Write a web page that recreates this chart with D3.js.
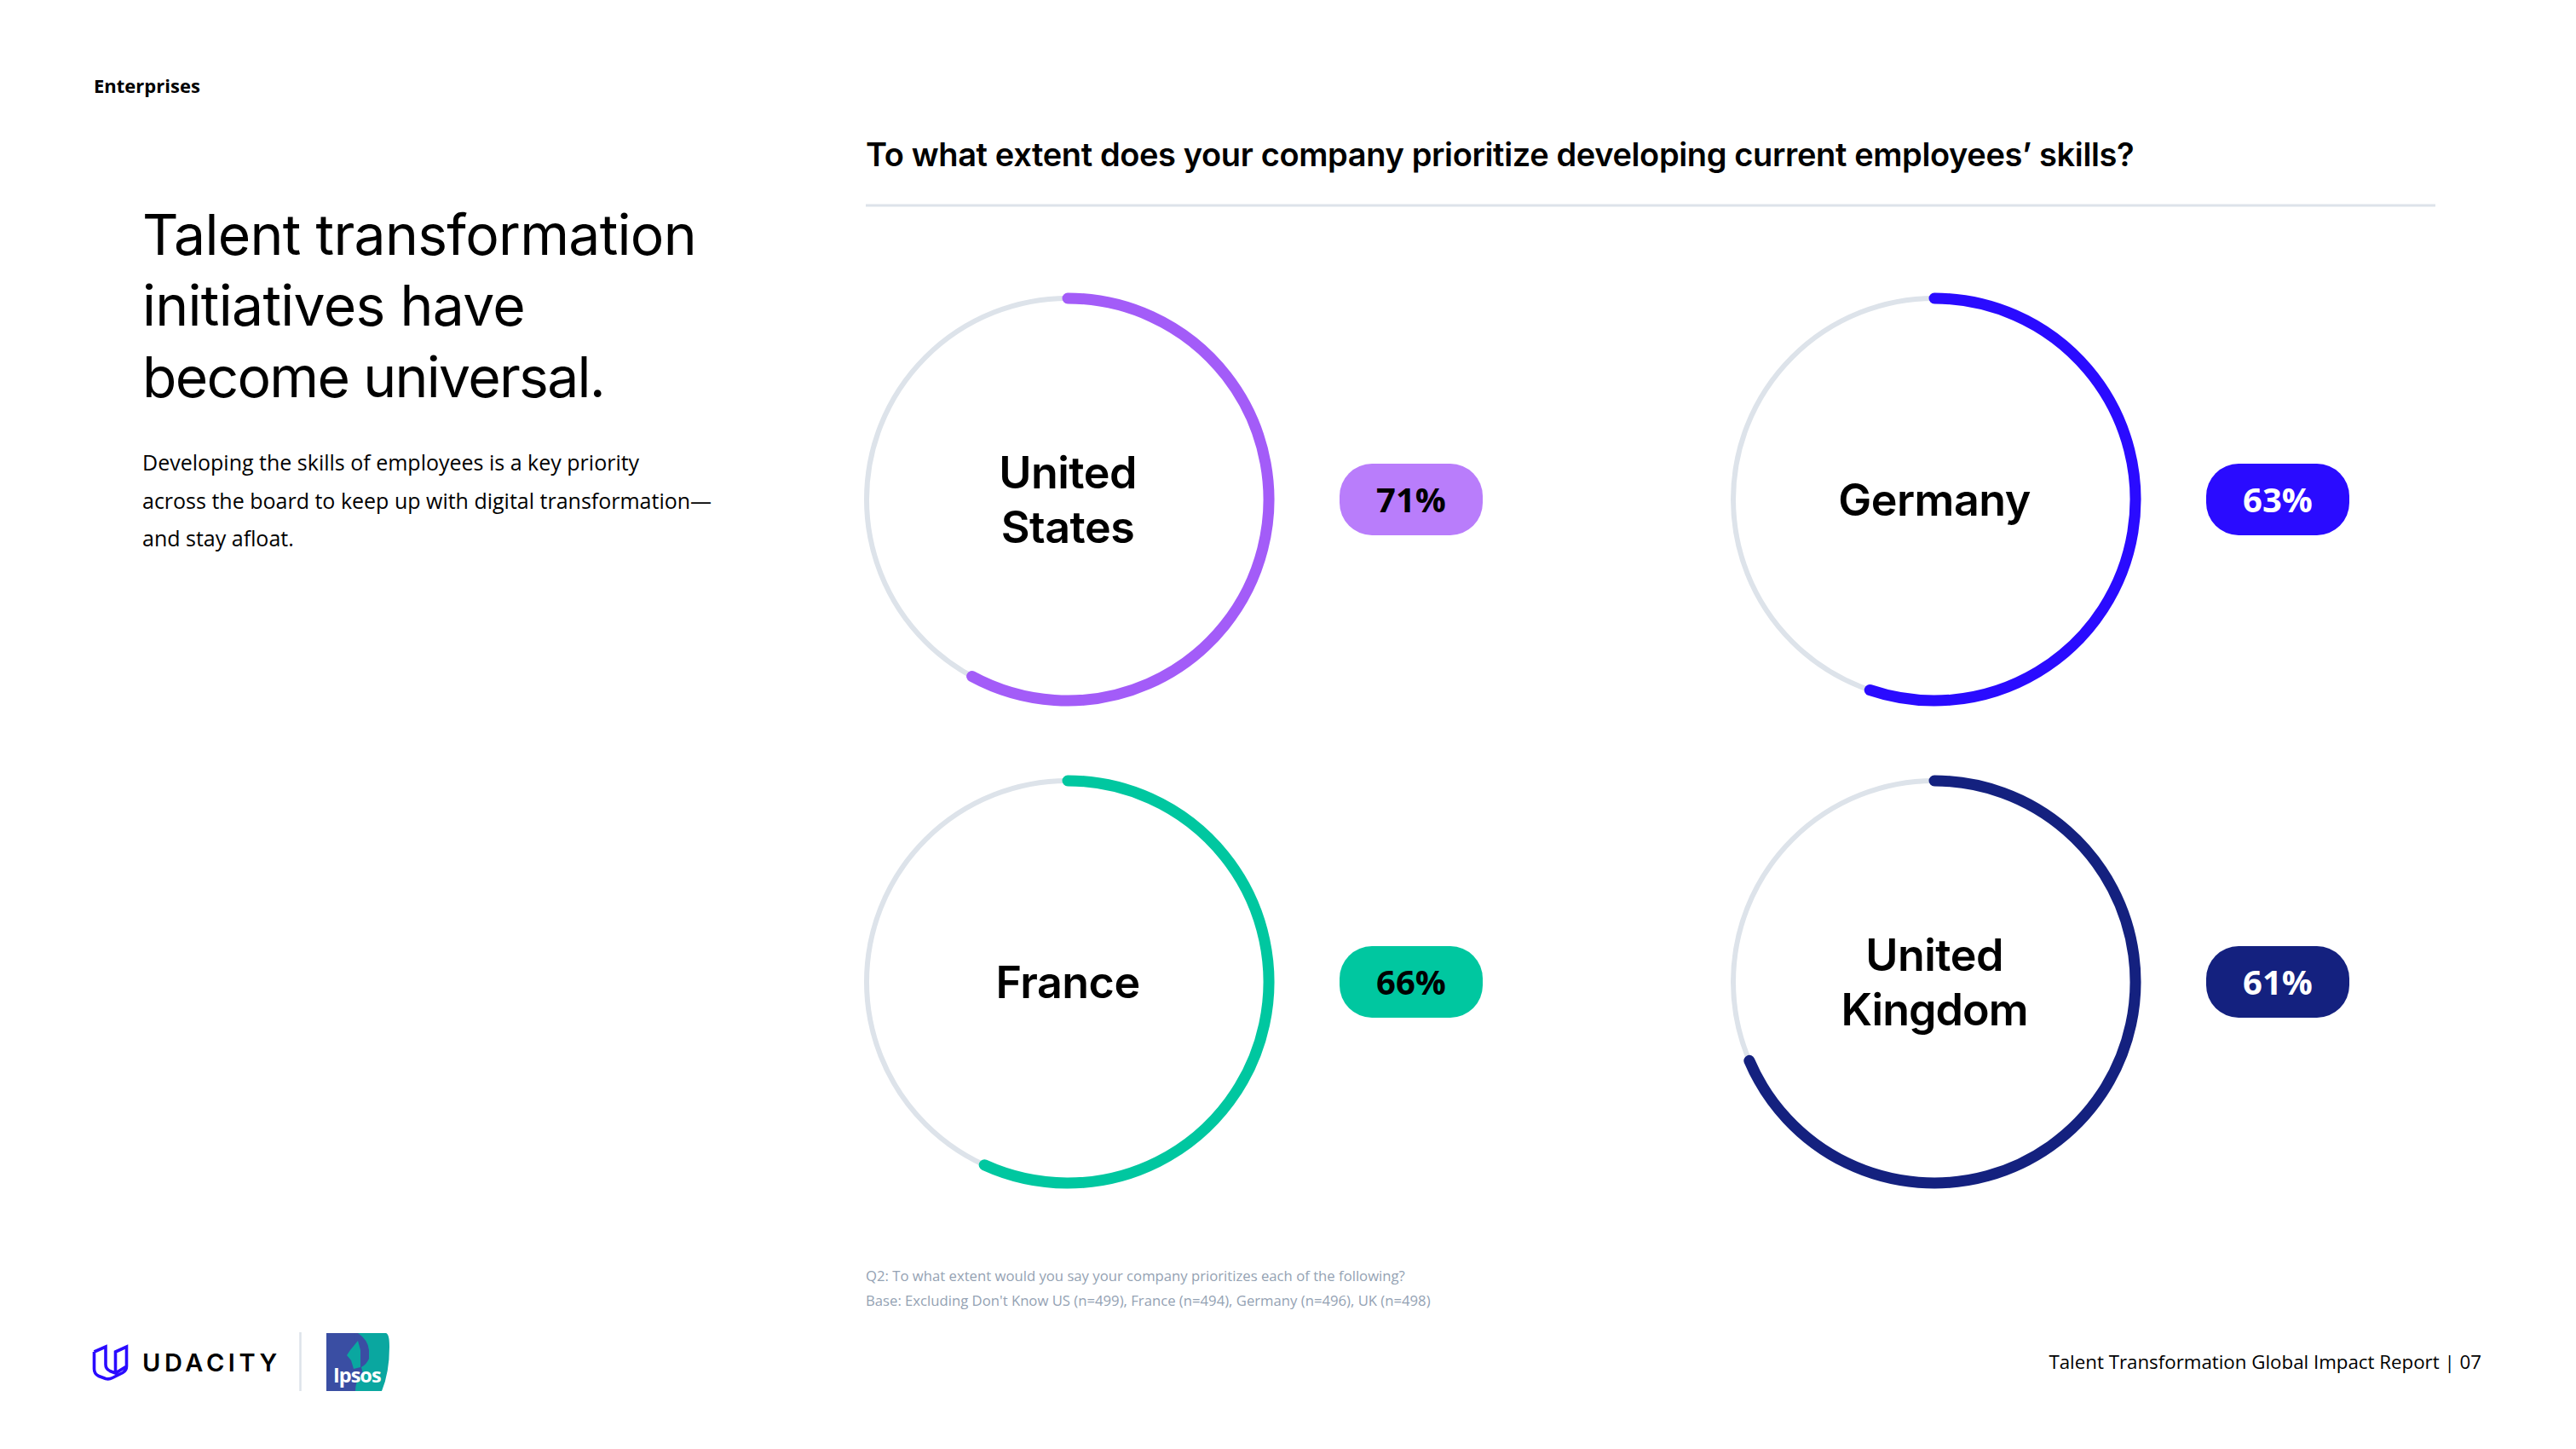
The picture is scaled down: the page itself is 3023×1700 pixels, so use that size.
<!DOCTYPE html>
<html>
<head>
<meta charset="utf-8">
<script src="https://cdn.jsdelivr.net/npm/d3@7"></script>
<style>
  html, body { margin: 0; background: #fff; }
  svg { display: block; }
</style>
</head>
<body>
<div id="container"></div>
<script>
const width = 3023;
const height = 1700;

const countries = ["United States", "Germany", "France", "United Kingdom"];
const labelLines = [["United", "States"], ["Germany"], ["France"], ["United", "Kingdom"]];
const percentLabels = ["71%", "63%", "66%", "61%"];
// the rings in the source do not follow the printed numbers, so the sweep is read off the picture
const ringShares = [0.579, 0.552, 0.568, 0.686];
const ringColors = ["#a35cf8", "#2a0bff", "#00c7a0", "#14217f"];
const pillColors = ["#b97dfb", "#2a0bff", "#00c7a0", "#14217f"];
const pillText = ["#000", "#fff", "#000", "#fff"];
const columns = [0, 1, 0, 1];
const rows = [0, 0, 1, 1];

const headline = ["Talent transformation", "initiatives have", "become universal."];
const bodyLines = [
  "Developing the skills of employees is a key priority",
  "across the board to keep up with digital transformation—",
  "and stay afloat."
];
const noteLines = [
  "Q2: To what extent would you say your company prioritizes each of the following?",
  "Base: Excluding Don't Know US (n=499), France (n=494), Germany (n=496), UK (n=498)"
];

const head = "Inter, 'Liberation Sans', sans-serif";
const body = "'Open Sans', sans-serif";

const svg = d3.select("#container")
  .append("svg")
  .attr("width", width)
  .attr("height", height)
  .attr("viewBox", [0, 0, width, height]);

svg.append("text")
  .attr("x", 110).attr("y", 109)
  .attr("font-family", body).attr("font-size", 22).attr("font-weight", 700)
  .text("Enterprises");

svg.append("text")
  .attr("x", 1016).attr("y", 195)
  .attr("font-family", head).attr("font-size", 38).attr("font-weight", 600)
  .attr("letter-spacing", -0.37)
  .text("To what extent does your company prioritize developing current employees’ skills?");

svg.append("line")
  .attr("x1", 1016).attr("x2", 2858)
  .attr("y1", 241).attr("y2", 241)
  .attr("stroke", "#dde3ea").attr("stroke-width", 3);

svg.selectAll(".headline")
  .data(headline)
  .join("text")
  .attr("class", "headline")
  .attr("x", 167)
  .attr("y", (d, i) => 298.5 + i * 83.5)
  .attr("font-family", head).attr("font-size", 66).attr("font-weight", 400)
  .attr("letter-spacing", (d, i) => i === 2 ? -1.7 : -0.7)
  .text(d => d);

svg.selectAll(".bodyline")
  .data(bodyLines)
  .join("text")
  .attr("class", "bodyline")
  .attr("x", 167)
  .attr("y", (d, i) => 552 + i * 44.5)
  .attr("font-family", body).attr("font-size", 25)
  .text(d => d);

// ring grid
const x = d3.scaleOrdinal().domain([0, 1]).range([1253, 2270]);
const y = d3.scaleOrdinal().domain([0, 1]).range([586, 1152]);
const sweep = d3.scaleLinear().domain([0, 1]).range([-Math.PI / 2, 1.5 * Math.PI]);

const ringRadius = 236;

function ringPath(share) {
  const p = d3.path();
  p.arc(0, 0, ringRadius, sweep(0), sweep(share));
  return p.toString();
}

const cells = svg.selectAll(".cell")
  .data(countries)
  .join("g")
  .attr("class", "cell")
  .attr("transform", (d, i) => `translate(${x(columns[i])},${y(rows[i])})`);

cells.append("circle")
  .attr("r", ringRadius)
  .attr("fill", "none")
  .attr("stroke", "#dde3ea")
  .attr("stroke-width", 6);

cells.append("path")
  .attr("fill", "none")
  .attr("stroke", (d, i) => ringColors[i])
  .attr("stroke-width", 13)
  .attr("stroke-linecap", "round")
  .attr("d", (d, i) => ringPath(ringShares[i]));

cells.each(function(d, i) {
  const lines = labelLines[i];
  d3.select(this).selectAll(".label")
    .data(lines)
    .join("text")
    .attr("class", "label")
    .attr("text-anchor", "middle")
    .attr("y", (t, k) => 19 + (k - (lines.length - 1) / 2) * 64)
    .attr("font-family", head).attr("font-size", 52).attr("font-weight", 600)
    .attr("letter-spacing", t => t === "Kingdom" ? -1 : -0.5)
    .text(t => t);
});

const pills = cells.append("g").attr("transform", "translate(403,0)");

pills.append("rect")
  .attr("x", -84).attr("y", -42)
  .attr("width", 168).attr("height", 84)
  .attr("rx", 38)
  .attr("fill", (d, i) => pillColors[i]);

pills.append("text")
  .attr("text-anchor", "middle")
  .attr("y", 14.5)
  .attr("font-family", body).attr("font-size", 40).attr("font-weight", 700)
  .attr("fill", (d, i) => pillText[i])
  .text((d, i) => percentLabels[i]);

svg.selectAll(".note")
  .data(noteLines)
  .join("text")
  .attr("class", "note")
  .attr("x", 1016)
  .attr("y", (d, i) => 1503 + i * 28.5)
  .attr("font-family", body).attr("font-size", 16.7)
  .attr("fill", "#94a2b3")
  .text(d => d);

// footer logos
const logo = svg.append("g");

logo.append("path")
  .attr("d", "M110.5 1586 L110.5 1606 Q110.5 1612 116 1614.5 L124 1617.5 Q128 1618.5 132 1616.5 L144 1610.5 Q148.5 1608 148.5 1603 L148.5 1580 L135.5 1586 L135.5 1611 M110.5 1586 L124 1580 L124 1601 Q124 1606 129 1608.5 L135.5 1611 L148.5 1603")
  .attr("fill", "none").attr("stroke", "#2a0bff").attr("stroke-width", 3.6);

logo.append("text")
  .attr("x", 167).attr("y", 1609)
  .attr("font-family", head).attr("font-size", 29).attr("font-weight", 600)
  .attr("letter-spacing", 4.6)
  .text("UDACITY");

logo.append("line")
  .attr("x1", 352.5).attr("x2", 352.5).attr("y1", 1563).attr("y2", 1632)
  .attr("stroke", "#dde3ea").attr("stroke-width", 2.5);

logo.append("rect").attr("x", 383).attr("y", 1564).attr("width", 60).attr("height", 68).attr("fill", "#3a4ea3");
logo.append("path")
  .attr("d", "M418 1564 L453 1564 Q457 1565 457 1580 Q457 1610 448 1632 L417 1632 Q417 1622 423 1612 Z")
  .attr("fill", "#0aa7a0");
// head silhouette and its teal feather edge
logo.append("path")
  .attr("d", "M416 1564 L420 1564 Q432 1572 433 1584 L433 1594 Q430 1601 424 1604 L426 1612 L414 1620 L412 1612 Z")
  .attr("fill", "#3a4ea3");
logo.append("path")
  .attr("d", "M420 1573 L423 1584 L423 1604 L415 1606 L412 1596 L407 1590 L411 1584 Z")
  .attr("fill", "#0aa7a0");

logo.append("text")
  .attr("x", 391).attr("y", 1622)
  .attr("font-family", body).attr("font-size", 23.5).attr("font-weight", 700)
  .attr("letter-spacing", -1).attr("fill", "#fff")
  .text("Ipsos");

svg.append("text")
  .attr("x", 2912).attr("y", 1606)
  .attr("text-anchor", "end")
  .attr("font-family", body).attr("font-size", 22.3)
  .text("Talent Transformation Global Impact Report | 07");
</script>
</body>
</html>
